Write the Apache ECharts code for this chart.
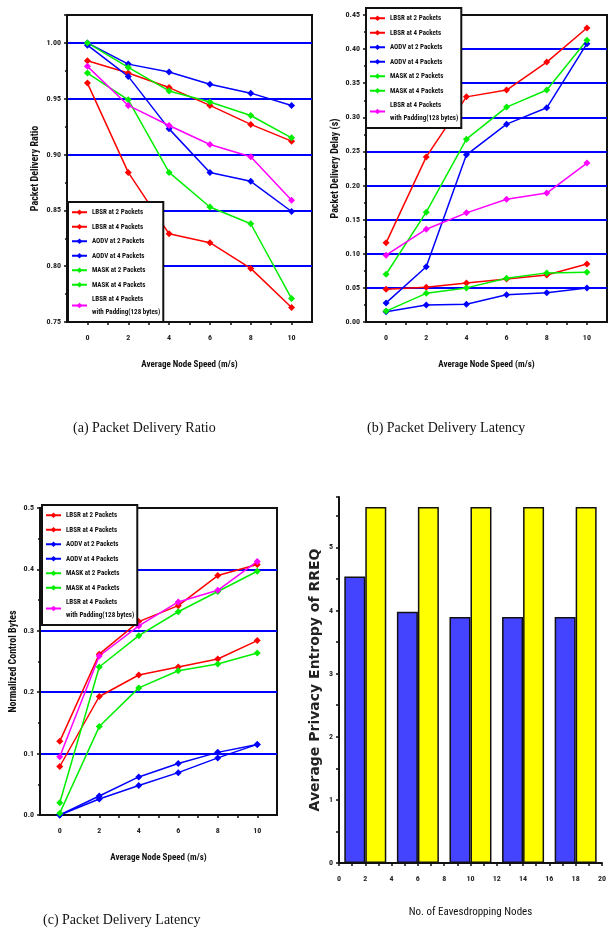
<!DOCTYPE html>
<html><head><meta charset="utf-8">
<script src="https://cdn.jsdelivr.net/npm/echarts@6/dist/echarts.min.js"></script>
<style>html,body{margin:0;padding:0;background:#fff}#c{width:609px;height:930px}</style>
</head><body><div id="c"></div>
<script>
// ---------- data ----------
const speeds = [0, 2, 4, 6, 8, 10];
const speedTickLabels = [0, 2, 4, 6, 8, 10];
const speedTicks = [0, 1, 2, 3, 4, 5, 6, 7, 8, 9, 10];
const names = [
  'LBSR at 2 Packets', 'LBSR at 4 Packets', 'AODV at 2 Packets', 'AODV at 4 Packets',
  'MASK at 2 Packets', 'MASK at 4 Packets', 'LBSR at 4 Packets with Padding(128 bytes)'
];
const colors = ['#ff0000', '#ff0000', '#0000ff', '#0000ff', '#00ee00', '#00ee00', '#ff00ff'];

// (a) Packet delivery ratio
const pdrLbsr2 = [0.984, 0.973, 0.960, 0.944, 0.927, 0.912];
const pdrLbsr4 = [0.964, 0.884, 0.829, 0.821, 0.798, 0.763];
const pdrAodv2 = [1.000, 0.981, 0.974, 0.963, 0.955, 0.944];
const pdrAodv4 = [0.998, 0.970, 0.923, 0.884, 0.876, 0.849];
const pdrMask2 = [1.000, 0.978, 0.957, 0.947, 0.935, 0.915];
const pdrMask4 = [0.973, 0.949, 0.884, 0.853, 0.838, 0.771];
const pdrPad   = [0.979, 0.944, 0.926, 0.909, 0.898, 0.859];

// (b) Packet delivery delay (s)
const delLbsr2 = [0.116, 0.242, 0.330, 0.340, 0.381, 0.431];
const delLbsr4 = [0.048, 0.051, 0.057, 0.063, 0.069, 0.085];
const delAodv2 = [0.028, 0.081, 0.245, 0.290, 0.314, 0.408];
const delAodv4 = [0.015, 0.025, 0.026, 0.040, 0.043, 0.050];
const delMask2 = [0.070, 0.161, 0.268, 0.315, 0.340, 0.413];
const delMask4 = [0.016, 0.042, 0.050, 0.064, 0.072, 0.073];
const delPad   = [0.098, 0.136, 0.160, 0.180, 0.189, 0.233];

// (c) Normalized control bytes
const ncbLbsr2 = [0.120, 0.262, 0.315, 0.341, 0.390, 0.408];
const ncbLbsr4 = [0.079, 0.193, 0.228, 0.241, 0.254, 0.284];
const ncbAodv2 = [0.000, 0.031, 0.062, 0.084, 0.102, 0.115];
const ncbAodv4 = [0.000, 0.026, 0.048, 0.069, 0.093, 0.115];
const ncbMask2 = [0.020, 0.241, 0.292, 0.331, 0.364, 0.397];
const ncbMask4 = [0.003, 0.144, 0.207, 0.235, 0.246, 0.264];
const ncbPad   = [0.095, 0.259, 0.308, 0.347, 0.366, 0.413];

// (d) Average privacy entropy of RREQ
const eavesNodes = [2, 6, 10, 14, 18];
const entropyBlue = [4.54, 3.98, 3.90, 3.90, 3.90];
const entropyYellow = [5.64, 5.64, 5.64, 5.64, 5.64];

// ---------- chart ----------
const NARROW = '"Liberation Sans Narrow","Arial Narrow","Roboto Condensed","Liberation Sans",sans-serif';
const chart = echarts.init(document.getElementById('c'), null, {renderer: 'canvas'});

const grids = [
  {left: 67, top: 15, width: 245, height: 307},
  {left: 366, top: 15, width: 241, height: 307},
  {left: 40, top: 508, width: 237, height: 307},
  {left: 339, top: 497, width: 264, height: 366}
];
grids.forEach((g, i) => {
  if (i < 3) { g.show = true; g.borderColor = '#111'; g.borderWidth = 2; g.backgroundColor = 'transparent'; }
});

const tickLbl = {fontSize: 8, fontWeight: 'bold', fontFamily: NARROW, color: '#222'};
const axisNameStyle = {fontSize: 9, fontWeight: 'bold', fontFamily: NARROW, color: '#111'};

function speedAxis(gi) {
  return {
    type: 'value', gridIndex: gi, min: -1, max: 11,
    name: 'Average Node Speed (m/s)', nameLocation: 'middle', nameGap: 38,
    nameTextStyle: axisNameStyle,
    axisLine: {show: true, onZero: false, lineStyle: {color: '#111', width: 2}},
    axisTick: {show: true, customValues: speedTicks, length: 3, inside: false, lineStyle: {color: '#111', width: 1.5}},
    axisLabel: {customValues: speedTickLabels, margin: 12, ...tickLbl},
    splitLine: {show: false}
  };
}
function valAxis(gi, min, max, interval, name, dec, gap) {
  const aligned = Math.abs(max / interval - Math.round(max / interval)) < 1e-6;
  return {
    type: 'value', gridIndex: gi, min, max, interval,
    name, nameLocation: 'middle', nameGap: gap, nameTextStyle: {...axisNameStyle, fontSize: 10},
    axisLine: {show: true, onZero: false, lineStyle: {color: '#111', width: 2}},
    axisTick: {show: true, length: 3, lineStyle: {color: '#111', width: 1.5}},
    minorTick: {show: true, splitNumber: 2, length: 2, lineStyle: {color: '#111', width: 1.5}},
    axisLabel: {margin: 6, showMaxLabel: aligned, formatter: v => v.toFixed(dec), ...tickLbl},
    splitLine: {show: true, showMinLine: false, showMaxLine: false, lineStyle: {color: '#0000ff', width: 2}}
  };
}

const xAxes = [speedAxis(0), speedAxis(1), speedAxis(2), {
  type: 'value', gridIndex: 3, min: 0, max: 20, interval: 2,
  name: 'No. of Eavesdropping Nodes', nameLocation: 'middle', nameGap: 44,
  nameTextStyle: {fontSize: 11, fontFamily: NARROW, color: '#111'},
  axisLine: {show: true, onZero: false, lineStyle: {color: '#111', width: 2}},
  axisTick: {show: true, length: 3, lineStyle: {color: '#111', width: 1.5}},
  minorTick: {show: true, splitNumber: 2, length: 3, lineStyle: {color: '#111', width: 1.5}},
  axisLabel: {margin: 12, ...tickLbl},
  splitLine: {show: false}
}];
const yAxes = [
  valAxis(0, 0.75, 1.025, 0.05, 'Packet Delivery Ratio', 2, 27),
  valAxis(1, 0, 0.45, 0.05, 'Packet Delivery Delay (s)', 2, 26),
  valAxis(2, 0, 0.5, 0.1, 'Normalized Control Bytes', 1, 22),
  {
    type: 'value', gridIndex: 3, min: 0, max: 5.8, interval: 1,
    name: 'Average Privacy Entropy of RREQ', nameLocation: 'middle', nameGap: 17,
    nameTextStyle: {fontSize: 14, fontWeight: 'bold', fontFamily: '"DejaVu Sans",sans-serif', color: '#222'},
    axisLine: {show: true, onZero: false, lineStyle: {color: '#111', width: 2}},
    axisTick: {show: true, length: 3, lineStyle: {color: '#111', width: 1.5}},
    minorTick: {show: true, splitNumber: 2, length: 3, lineStyle: {color: '#111', width: 1.5}},
    axisLabel: {margin: 6, showMaxLabel: false, ...tickLbl},
    splitLine: {show: false}
  }
];

const panels = [
  [pdrLbsr2, pdrLbsr4, pdrAodv2, pdrAodv4, pdrMask2, pdrMask4, pdrPad],
  [delLbsr2, delLbsr4, delAodv2, delAodv4, delMask2, delMask4, delPad],
  [ncbLbsr2, ncbLbsr4, ncbAodv2, ncbAodv4, ncbMask2, ncbMask4, ncbPad]
];
const series = [];
panels.forEach((arrs, gi) => {
  arrs.forEach((arr, k) => {
    series.push({
      type: 'line', name: names[k], xAxisIndex: gi, yAxisIndex: gi,
      data: speeds.map((s, i) => [s, arr[i]]),
      symbol: 'diamond', symbolSize: 7, showAllSymbol: true,
      lineStyle: {color: colors[k], width: 1.5},
      itemStyle: {color: colors[k]},
      emphasis: {disabled: true}, z: 3
    });
  });
});
series.push({
  type: 'bar', name: 'blue', xAxisIndex: 3, yAxisIndex: 3,
  data: eavesNodes.map((n, i) => [n, entropyBlue[i]]),
  barWidth: 21, barGap: '0%',
  itemStyle: {color: '#4444ff', borderColor: '#111', borderWidth: 1.5}
});
series.push({
  type: 'bar', name: 'yellow', xAxisIndex: 3, yAxisIndex: 3,
  data: eavesNodes.map((n, i) => [n, entropyYellow[i]]),
  barWidth: 21, barGap: '0%',
  itemStyle: {color: '#ffff00', borderColor: '#111', borderWidth: 1.5}
});

function legend(left, top) {
  return {
    data: names, orient: 'vertical', left, top,
    backgroundColor: '#fff', borderColor: '#111', borderWidth: 2, borderRadius: 0,
    padding: [4, 3, 4, 3], itemGap: 2, itemWidth: 15, itemHeight: 7,
    selectedMode: false,
    formatter: n => n.replace(' with ', '\nwith '),
    textStyle: {fontSize: 7, fontWeight: 'bold', fontFamily: NARROW, color: '#111', lineHeight: 12.5},
    z: 10
  };
}

const capStyle = {fontSize: 14, fontWeight: 'normal', fontFamily: '"Liberation Serif","Times New Roman",serif', color: '#111'};
const option = {
  animation: false,
  backgroundColor: '#fff',
  title: [
    {text: '(a) Packet Delivery Ratio', left: 68, top: 416, textStyle: capStyle},
    {text: '(b) Packet Delivery Latency', left: 362, top: 416, textStyle: capStyle},
    {text: '(c) Packet Delivery Latency', left: 38, top: 908, textStyle: capStyle}
  ],
  grid: grids,
  xAxis: xAxes,
  yAxis: yAxes,
  legend: [legend(68, 202), legend(366, 8), legend(42, 505)],
  series
};
chart.setOption(option);
</script>
</body></html>
